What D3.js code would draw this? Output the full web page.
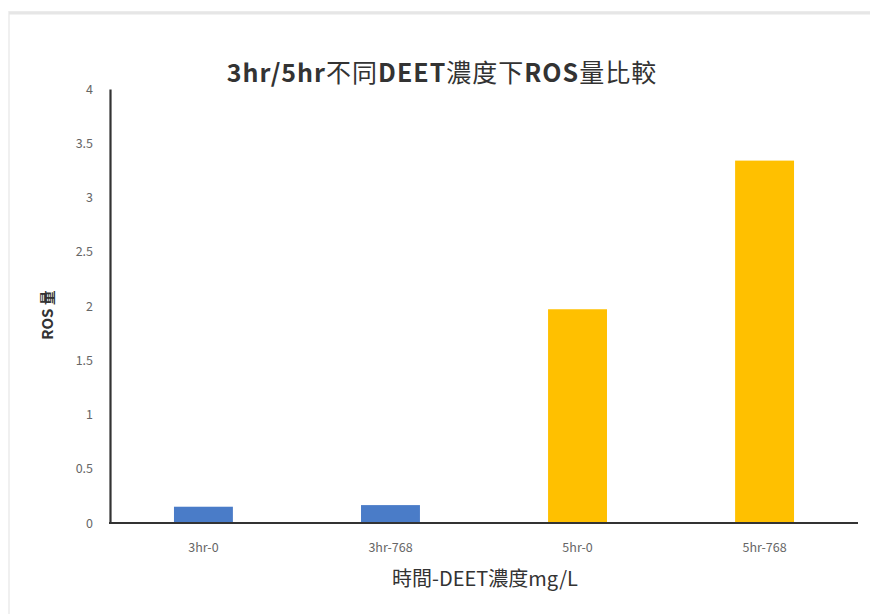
<!DOCTYPE html>
<html>
<head>
<meta charset="utf-8">
<script src="https://cdn.jsdelivr.net/npm/d3@7"></script>
<style>
  html, body { margin: 0; padding: 0; background: #fff; }
  svg { display: block; }
  text { font-family: "Noto Sans CJK TC", "Noto Sans", sans-serif; }
</style>
</head>
<body>
<svg id="chart" width="870" height="614"></svg>
<script>
// ROS level per time / DEET concentration group
const categories = ["3hr-0", "3hr-768", "5hr-0", "5hr-768"];
const rosValues = [0.15, 0.165, 1.97, 3.34];
const barColors = ["#4a7cc8", "#4a7cc8", "#ffc000", "#ffc000"];
const yTicks = [0, 0.5, 1, 1.5, 2, 2.5, 3, 3.5, 4];

const svg = d3.select("#chart");

// faint outer frame of the chart area
svg.append("rect").attr("x", 9).attr("y", 12).attr("width", 870).attr("height", 620)
  .attr("fill", "none").attr("stroke", "#f0f0f0").attr("stroke-width", 2);
svg.append("line").attr("x1", 9).attr("x2", 870).attr("y1", 13).attr("y2", 13)
  .attr("stroke", "#e6e6e6").attr("stroke-width", 3);

const margin = { left: 110, right: 12, top: 89, bottom: 91 };
const W = 870, H = 614;

const x = d3.scaleBand().domain(categories)
  .range([margin.left, W - margin.right])
  .paddingInner(0.685).paddingOuter(0.342);

const y = d3.scaleLinear().domain([0, 4]).range([H - margin.bottom, margin.top]);

// bars
svg.append("g").selectAll("rect").data(categories).join("rect")
  .attr("x", d => x(d))
  .attr("width", x.bandwidth())
  .attr("y", (d, i) => y(rosValues[i]))
  .attr("height", (d, i) => y(0) - y(rosValues[i]))
  .attr("fill", (d, i) => barColors[i]);

// y axis
const yAxis = svg.append("g").attr("transform", `translate(${margin.left},0)`)
  .call(d3.axisLeft(y).tickValues(yTicks).tickSize(0).tickPadding(17).tickFormat(d3.format("")));
yAxis.select(".domain").attr("stroke", "#333").attr("stroke-width", 2.2);
yAxis.selectAll("text").attr("fill", "#666").attr("font-size", 12.5)
  .attr("font-family", "'Liberation Sans', Arial, sans-serif");

// x axis
const xAxis = svg.append("g").attr("transform", `translate(0,${y(0)})`)
  .call(d3.axisBottom(x).tickSize(0).tickPadding(20));
xAxis.select(".domain").attr("stroke", "#333").attr("stroke-width", 2.2)
  .attr("d", `M${margin.left - 1},0H${W - margin.right}`);
xAxis.selectAll("text").attr("fill", "#666").attr("font-size", 12.5)
  .attr("font-family", "'Liberation Sans', Arial, sans-serif");

// title
const title = svg.append("text").attr("x", 442).attr("y", 82)
  .attr("text-anchor", "middle").attr("font-size", 25).attr("fill", "#333")
  .attr("letter-spacing", 1);
[["3hr/5hr", 700], ["不同", 400], ["DEET", 700], ["濃度下", 400], ["ROS", 700], ["量比較", 400]]
  .forEach(([t, w]) => title.append("tspan").attr("font-weight", w).text(t));

// y axis title
svg.append("text")
  .attr("transform", "translate(53,315) rotate(-90)")
  .attr("text-anchor", "middle").attr("font-size", 15).attr("font-weight", 700)
  .attr("fill", "#333").text("ROS 量");

// x axis title
svg.append("text").attr("x", 485).attr("y", 586)
  .attr("text-anchor", "middle").attr("font-size", 20).attr("fill", "#333")
  .text("時間-DEET濃度mg/L");
</script>
</body>
</html>
